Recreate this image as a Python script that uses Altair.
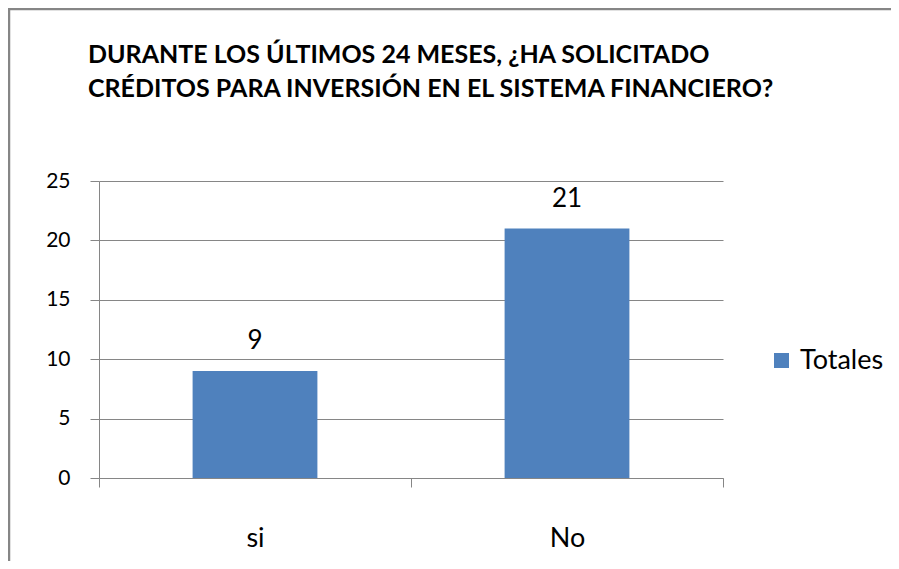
import altair as alt
import pandas as pd

categories = ["si", "No"]
values = [9, 21]
series_name = "Totales"
y_ticks = [0, 5, 10, 15, 20, 25]
title_lines = ["DURANTE LOS ÚLTIMOS 24 MESES, ¿HA SOLICITADO",
               "CRÉDITOS PARA INVERSIÓN EN EL SISTEMA FINANCIERO?"]

df = pd.DataFrame({"cat": categories, "val": values, "series": [series_name] * len(categories)})

GRAY = "#868686"
BLUE = "#4F81BD"
FONT = "Lato"

x_enc = alt.X("cat:N", sort=categories,
              scale=alt.Scale(paddingInner=0, paddingOuter=0),
              axis=alt.Axis(title=None, labelAngle=0, tickBand="extent", grid=False,
                            domainColor=GRAY, tickColor=GRAY, tickSize=9,
                            labelFont=FONT, labelFontSize=27, labelColor="black",
                            labelPadding=38))
y_enc = alt.Y("val:Q", scale=alt.Scale(domain=[0, 25], nice=False),
              axis=alt.Axis(title=None, values=y_ticks, grid=True, gridColor=GRAY,
                            domainColor=GRAY, tickColor=GRAY, tickSize=9,
                            labelFont=FONT, labelFontSize=21, labelColor="black",
                            labelPadding=20))

bars = alt.Chart(df).mark_bar(color=BLUE, width=alt.RelativeBandSize(0.4)).encode(
    x=x_enc, y=y_enc,
    color=alt.Color("series:N", scale=alt.Scale(range=[BLUE]),
                    legend=alt.Legend(title=None, orient="none", legendX=669, legendY=166,
                                      symbolType="square", symbolSize=225,
                                      symbolStrokeWidth=0, symbolOpacity=1,
                                      labelFont=FONT, labelFontSize=27,
                                      labelColor="black", labelOffset=5)),
)

labels = alt.Chart(df).mark_text(font=FONT, fontSize=26, baseline="alphabetic", dy=-22,
                                 color="black").encode(
    x=alt.X("cat:N", sort=categories), y="val:Q", text="val:Q")

title_layers = []
for i, line in enumerate(title_lines):
    title_layers.append(
        alt.Chart(alt.Data(values=[{}])).mark_text(
            text=line, font=FONT, fontSize=25, fontWeight="bold", align="left",
            baseline="alphabetic", color="black").encode(
            x=alt.value(-11), y=alt.value(-118 + 34 * i)))

border_left = alt.Chart(alt.Data(values=[{}])).mark_rule(color=GRAY, strokeWidth=2.5).encode(
    x=alt.value(-90), y=alt.value(-173), y2=alt.value(380))
border_top = alt.Chart(alt.Data(values=[{}])).mark_rule(color=GRAY, strokeWidth=2.5).encode(
    x=alt.value(-91), x2=alt.value(800), y=alt.value(-172))

chart = alt.layer(bars, labels, *title_layers, border_left, border_top).properties(
    width=624, height=297,
    autosize=alt.AutoSizeParams(type="none"),
    padding={"left": 91, "top": 173, "right": 168, "bottom": 83},
).configure_view(stroke=None)

chart.save("out.html", embed_options={"renderer": "svg", "actions": False})
